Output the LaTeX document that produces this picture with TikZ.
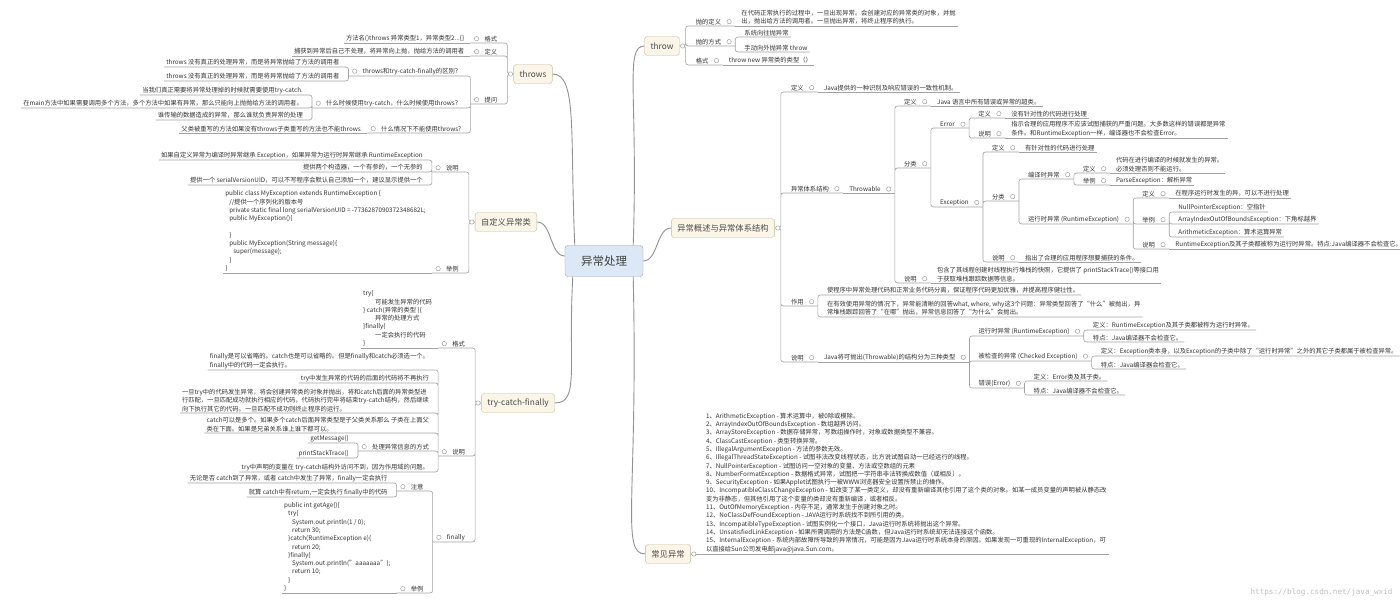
\documentclass[tikz,border=0pt]{standalone}
\usepackage{fontspec}
\setmainfont{Noto Sans CJK SC}[Ligatures=Common]
\newfontfamily\wmfont{DejaVu Sans Mono}
\definecolor{linegray}{HTML}{A2A2A2}
\definecolor{boxfill}{HTML}{FBF5E8}
\definecolor{boxline}{HTML}{C9BB9E}
\definecolor{rootfill}{HTML}{DCE8F5}
\definecolor{rootline}{HTML}{8EA8C8}
\definecolor{txt}{HTML}{333333}

\begin{document}
\begin{tikzpicture}[
    x=1pt, y=-1pt,
    lbl/.style={inner xsep=2pt, inner ysep=1.2pt, text=txt,
        font=\fontsize{6.3}{8.3}\selectfont},
    rn/.style={lbl, anchor=south west},
    rp/.style={rn, execute at end node=\hspace{12pt},
        path picture={\draw[dotc] ([xshift=-6pt]path picture bounding box.east) circle (2.2pt);}},
    ln/.style={lbl, anchor=south east},
    lp/.style={ln, execute at begin node=\hspace{12pt},
        path picture={\draw[dotc] ([xshift=6pt]path picture bounding box.west) circle (2.2pt);}},
    dotc/.style={draw=linegray, fill=white, line width=0.5pt},
    conn/.style={draw=linegray, line width=0.6pt, rounded corners=2.5pt},
    branch/.style={draw=linegray!90!black, line width=0.9pt},
    mtopic/.style={rectangle, draw=boxline, fill=boxfill, rounded corners=3pt,
        inner xsep=6pt, minimum height=19pt, text=black!70,
        font=\fontsize{8.3}{10}\selectfont},
    root/.style={rectangle, draw=rootline, fill=rootfill, rounded corners=3pt,
        minimum width=78pt, minimum height=31pt, text=black!75,
        font=\fontsize{11.5}{13}\selectfont},
]
\fill[white] (0,0) rectangle (1400,601);
\useasboundingbox (0,0) rectangle (1400,601);

% Topics
\node[root] (root) at (604,261) {异常处理};
\node[mtopic] (thr) at (662,46) {throw};
\node[mtopic] (gs) at (723,228) {异常概述与异常体系结构};
\node[mtopic] (cj) at (668,554) {常见异常};
\node[mtopic] (tws) at (533,74) {throws};
\node[mtopic] (zdy) at (506,222) {自定义异常类};
\node[mtopic] (tcf) at (518,403) {try-catch-finally};

% throw
\node[rp, xshift=14pt] (thr-dy) at (thr.east |- 0,26) {抛的定义};
\node[rn, xshift=4pt, align=left] (thr-dy-t) at (thr-dy.south east) {在代码正常执行的过程中，一旦出现异常。会创建对应的异常类的对象，并抛\\出，抛出给方法的调用者。一旦抛出异常，将终止程序的执行。};
\node[rp, xshift=14pt] (thr-fs) at (thr.east |- 0,46) {抛的方式};
\node[rn, xshift=7pt] (thr-fs-a) at (thr-fs.south east |- 0,37) {系统向往抛异常};
\node[rn, xshift=7pt] (thr-fs-b) at (thr-fs.south east |- 0,52) {手动向外抛异常 throw};
\node[rp, xshift=14pt] (thr-gs) at (thr.east |- 0,65) {格式};
\node[rn, xshift=4pt] (thr-gs-t) at (thr-gs.south east) {throw new 异常类的类型（）};

% Overview and hierarchy
\node[rp, xshift=14pt] (gs-dy) at (gs.east |- 0,92) {定义};
\node[rn, xshift=4pt] (gs-dy-t) at (gs-dy.south east) {Java提供的一种识别及响应错误的一致性机制。};
\node[rp, xshift=14pt] (gs-tx) at (gs.east |- 0,193) {异常体系结构};
\node[rp, xshift=4pt] (tb) at (gs-tx.south east) {Throwable};
\node[rp, xshift=7pt] (tb-dy) at (tb.south east |- 0,106) {定义};
\node[rn, xshift=4pt] (tb-dy-t) at (tb-dy.south east) {Java 语言中所有错误或异常的超类。};
\node[rp, xshift=7pt] (tb-fl) at (tb.south east |- 0,168) {分类};
\node[rp, xshift=7pt] (er) at (tb-fl.south east |- 0,128) {Error};
\node[rp, xshift=7pt] (er-dy) at (er.south east |- 0,118) {定义};
\node[rn, xshift=4pt] (er-dy-t) at (er-dy.south east) {没有针对性的代码进行处理};
\node[rp, xshift=7pt] (er-sm) at (er.south east |- 0,138) {说明};
\node[rn, xshift=4pt, align=left] (er-sm-t) at (er-sm.south east) {指示合理的应用程序不应该试图捕获的严重问题。大多数这样的错误都是异常\\条件。和RuntimeException一样，编译器也不会检查Error。};
\node[rp, xshift=7pt] (ex) at (tb-fl.south east |- 0,207) {Exception};
\node[rp, xshift=7pt] (ex-dy) at (ex.south east |- 0,152) {定义};
\node[rn, xshift=4pt] (ex-dy-t) at (ex-dy.south east) {有针对性的代码进行处理};
\node[rp, xshift=7pt] (ex-fl) at (ex.south east |- 0,201) {分类};
\node[rp, xshift=7pt] (bys) at (ex-fl.south east |- 0,179) {编译时异常};
\node[rp, xshift=7pt] (bys-dy) at (bys.south east |- 0,173) {定义};
\node[rn, xshift=4pt, align=left] (bys-dy-t) at (bys-dy.south east) {代码在进行编译的时候就发生的异常。\\必须处理否则不能运行。};
\node[rp, xshift=7pt] (bys-jl) at (bys.south east |- 0,185) {举例};
\node[rn, xshift=4pt] (bys-jl-t) at (bys-jl.south east) {ParseException：解析异常};
\node[rp, xshift=7pt] (yxs) at (ex-fl.south east |- 0,224) {运行时异常 (RuntimeException)};
\node[rp, xshift=7pt] (yxs-dy) at (yxs.south east |- 0,198) {定义};
\node[rn, xshift=4pt] (yxs-dy-t) at (yxs-dy.south east) {在程序运行时发生的异，可以不进行处理};
\node[rp, xshift=7pt] (yxs-jl) at (yxs.south east |- 0,224) {举例};
\node[rn, xshift=7pt] (yxs-jl-a) at (yxs-jl.south east |- 0,212) {NullPointerException：空指针};
\node[rn, xshift=7pt] (yxs-jl-b) at (yxs-jl.south east |- 0,224) {ArrayIndexOutOfBoundsException：下角标越界};
\node[rn, xshift=7pt] (yxs-jl-c) at (yxs-jl.south east |- 0,237) {ArithmeticException：算术运算异常};
\node[rp, xshift=7pt] (yxs-sm) at (yxs.south east |- 0,249) {说明};
\node[rn, xshift=4pt] (yxs-sm-t) at (yxs-sm.south east) {RuntimeException及其子类都被称为运行时异常。特点:Java编译器不会检查它。};
\node[rp, xshift=7pt] (ex-sm) at (ex.south east |- 0,262) {说明};
\node[rn, xshift=4pt] (ex-sm-t) at (ex-sm.south east) {指出了合理的应用程序想要捕获的条件。};
\node[rp, xshift=7pt] (tb-sm) at (tb.south east |- 0,283) {说明};
\node[rn, xshift=4pt, align=left] (tb-sm-t) at (tb-sm.south east) {包含了其线程创建时线程执行堆栈的快照，它提供了 printStackTrace()等接口用\\于获取堆栈跟踪数据等信息。};
\node[rp, xshift=14pt] (gs-zy) at (gs.east |- 0,306) {作用};
\node[rn, xshift=7pt] (gs-zy-a) at (gs-zy.south east |- 0,295) {使程序中异常处理代码和正常业务代码分离，保证程序代码更加优雅，并提高程序健壮性。};
\node[rn, xshift=7pt, align=left] (gs-zy-b) at (gs-zy.south east |- 0,317) {在有效使用异常的情况下，异常能清晰的回答what, where, why这3个问题：异常类型回答了“什么”被抛出，异\\常堆栈跟踪回答了“在哪”抛出，异常信息回答了“为什么”会抛出。};
\node[rp, xshift=14pt] (gs-sm) at (gs.east |- 0,362) {说明};
\node[rp, xshift=4pt] (gs-sm-t) at (gs-sm.south east) {Java将可抛出(Throwable)的结构分为三种类型};
\node[rp, xshift=7pt] (rt) at (gs-sm-t.south east |- 0,336) {运行时异常 (RuntimeException)};
\node[rn, xshift=7pt] (rt-a) at (rt.south east |- 0,330) {定义：RuntimeException及其子类都被称为运行时异常。};
\node[rn, xshift=7pt] (rt-b) at (rt.south east |- 0,342) {特点：Java编译器不会检查它。};
\node[rp, xshift=7pt] (ck) at (gs-sm-t.south east |- 0,361) {被检查的异常 (Checked Exception)};
\node[rn, xshift=7pt] (ck-a) at (ck.south east |- 0,356) {定义：Exception类本身，以及Exception的子类中除了“运行时异常”之外的其它子类都属于被检查异常。};
\node[rn, xshift=7pt] (ck-b) at (ck.south east |- 0,369) {特点：Java编译器会检查它。};
\node[rp, xshift=7pt] (err) at (gs-sm-t.south east |- 0,388) {错误(Error)};
\node[rn, xshift=7pt] (err-a) at (err.south east |- 0,381) {定义：Error类及其子类。};
\node[rn, xshift=7pt] (err-b) at (err.south east |- 0,395) {特点：Java编译器不会检查它。};

% Common exceptions
\node[rn, xshift=13pt, align=left] (cj-t) at (cj.east) {1、ArithmeticException - 算术运算中，被0除或模除。\\
2、ArrayIndexOutOfBoundsException - 数组越界访问。\\
3、ArrayStoreException - 数据存储异常，写数组操作时，对象或数据类型不兼容。\\
4、ClassCastException - 类型转换异常。\\
5、IllegalArgumentException - 方法的参数无效。\\
6、IllegalThreadStateException - 试图非法改变线程状态，比方说试图启动一已经运行的线程。\\
7、NullPointerException - 试图访问一空对象的变量、方法或空数组的元素\\
8、NumberFormatException - 数据格式异常，试图把一字符串非法转换成数值（或相反）。\\
9、SecurityException - 如果Applet试图执行一被WWW浏览器安全设置所禁止的操作。\\
10、IncompatibleClassChangeException - 如改变了某一类定义，却没有重新编译其他引用了这个类的对象。如某一成员变量的声明被从静态改\\
变为非静态，但其他引用了这个变量的类却没有重新编译，或者相反。\\
11、OutOfMemoryException - 内存不足，通常发生于创建对象之时。\\
12、NoClassDefFoundException - JAVA运行时系统找不到所引用的类。\\
13、IncompatibleTypeException - 试图实例化一个接口，Java运行时系统将抛出这个异常。\\
14、UnsatisfiedLinkException - 如果所需调用的方法是C函数，但Java运行时系统却无法连接这个函数。\\
15、InternalException - 系统内部故障所导致的异常情况，可能是因为Java运行时系统本身的原因。如果发现一可重现的InternalException，可\\
以直接给Sun公司发电邮java@java.Sun.com。};

% throws
\node[lp, xshift=-14pt] (tws-gs) at (tws.west |- 0,43) {格式};
\node[ln, xshift=-4pt] (tws-gs-t) at (tws-gs.south west) {方法名()throws 异常类型1，异常类型2...\{\}};
\node[lp, xshift=-14pt] (tws-dy) at (tws.west |- 0,56) {定义};
\node[ln, xshift=-4pt] (tws-dy-t) at (tws-dy.south west) {捕获到异常后自己不处理，将异常向上抛，抛给方法的调用者};
\node[lp, xshift=-14pt] (tws-tw) at (tws.west |- 0,104) {提问};
\node[lp, xshift=-7pt] (q1) at (tws-tw.south west |- 0,76) {throws和try-catch-finally的区别？};
\node[ln, xshift=-7pt] (q1-a) at (q1.south west |- 0,67) {throws 没有真正的处理异常，而是将异常抛给了方法的调用者};
\node[ln, xshift=-7pt] (q1-b) at (q1.south west |- 0,81) {throws 没有真正的处理异常，而是将异常抛给了方法的调用者};
\node[lp, xshift=-7pt] (q2) at (tws-tw.south west |- 0,108) {什么时候使用try-catch，什么时候使用throws？};
\node[ln, xshift=-7pt] (q2-a) at (q2.south west |- 0,95) {当我们真正需要将异常处理掉的时候就需要使用try-catch.};
\node[ln, xshift=-7pt] (q2-b) at (q2.south west |- 0,108) {在main方法中如果需要调用多个方法，多个方法中如果有异常，那么只能向上抛抛给方法的调用者。};
\node[ln, xshift=-7pt] (q2-c) at (q2.south west |- 0,120) {谁传输的数据造成的异常，那么谁就负责异常的处理};
\node[lp, xshift=-7pt] (q3) at (tws-tw.south west |- 0,133) {什么情况下不能使用throws?};
\node[ln, xshift=-4pt] (q3-t) at (q3.south west) {父类被重写的方法如果没有throws子类重写的方法也不能throws};

% Custom exception class
\node[lp, xshift=-14pt] (zdy-sm) at (zdy.west |- 0,172) {说明};
\node[ln, xshift=-7pt] (zdy-sm-a) at (zdy-sm.south west |- 0,160) {如果自定义异常为编译时异常继承 Exception，如果异常为运行时异常继承 RuntimeException};
\node[ln, xshift=-7pt] (zdy-sm-b) at (zdy-sm.south west |- 0,172) {提供两个构造器，一个有参的，一个无参的};
\node[ln, xshift=-7pt] (zdy-sm-c) at (zdy-sm.south west |- 0,185) {提供一个 serialVersionUID，可以不写程序会默认自己添加一个，建议显示提供一个};
\node[lp, xshift=-14pt] (zdy-jl) at (zdy.west |- 0,273) {举例};
\node[ln, xshift=-4pt, align=left] (zdy-jl-t) at (zdy-jl.south west) {public class MyException extends RuntimeException \{\\
\hspace*{4pt}//提供一个序列化的版本号\\
\hspace*{4pt}private static final long serialVersionUID = -7736287090372348682L;\\
\hspace*{4pt}public MyException()\{\\
\mbox{}\\
\hspace*{4pt}\}\\
\hspace*{4pt}public MyException(String message)\{\\
\hspace*{8pt}super(message);\\
\hspace*{4pt}\}\\
\}};

% try-catch-finally
\node[lp, xshift=-14pt] (tcf-gs) at (tcf.west |- 0,348) {格式};
\node[ln, xshift=-4pt, align=left] (tcf-gs-t) at (tcf-gs.south west) {try\{\\
\hspace*{12pt}可能发生异常的代码\\
\} catch(异常的类型 )\{\\
\hspace*{12pt}异常的处理方式\\
\}finally\{\\
\hspace*{12pt}一定会执行的代码\\
\}};
\node[lp, xshift=-14pt] (tcf-sm) at (tcf.west |- 0,456) {说明};
\node[ln, xshift=-7pt, align=left] (sm-a) at (tcf-sm.south west |- 0,370) {finally是可以省略的。catch也是可以省略的。但是finally和catch必须选一个。\\finally中的代码一定会执行。};
\node[ln, xshift=-7pt] (sm-b) at (tcf-sm.south west |- 0,383) {try中发生异常的代码的后面的代码将不再执行};
\node[ln, xshift=-7pt, align=left] (sm-c) at (tcf-sm.south west |- 0,413) {一旦try中的代码发生异常，将会创建异常类的对象并抛出，将和catch后面的异常类型进\\行匹配，一旦匹配成功就执行相应的代码，代码执行完毕将结束try-catch结构，然后继续\\向下执行其它的代码。一旦匹配不成功则终止程序的运行。};
\node[ln, xshift=-7pt, align=left] (sm-d) at (tcf-sm.south west |- 0,433) {catch可以是多个。如果多个catch后面异常类型是子父类关系那么 子类在上面父\\类在下面。如果是兄弟关系谁上谁下都可以。};
\node[lp, xshift=-7pt] (sm-e) at (tcf-sm.south west |- 0,451) {处理异常信息的方式};
\node[ln, xshift=-7pt] (sm-e1) at (sm-e.south west |- 0,443) {getMessage()};
\node[ln, xshift=-7pt] (sm-e2) at (sm-e.south west |- 0,458) {printStackTrace()};
\node[ln, xshift=-7pt] (sm-f) at (tcf-sm.south west |- 0,472) {try中声明的变量在 try-catch结构外访问不到，因为作用域的问题。};
\node[lp, xshift=-14pt] (tcf-fn) at (tcf.west |- 0,542) {finally};
\node[lp, xshift=-7pt] (zy) at (tcf-fn.south west |- 0,491) {注意};
\node[ln, xshift=-7pt] (zy-a) at (zy.south west |- 0,483) {无论是否 catch到了异常，或者 catch中发生了异常，finally一定会执行};
\node[ln, xshift=-7pt] (zy-b) at (zy.south west |- 0,497) {就算 catch中有return,一定会执行 finally中的代码};
\node[lp, xshift=-7pt] (fn-jl) at (tcf-fn.south west |- 0,593) {举例};
\node[ln, xshift=-4pt, align=left] (fn-jl-t) at (fn-jl.south west) {public int getAge()\{\\
\hspace*{4pt}try\{\\
\hspace*{8pt}System.out.println(1 / 0);\\
\hspace*{8pt}return 30;\\
\hspace*{4pt}\}catch(RuntimeException e)\{\\
\hspace*{8pt}return 20;\\
\hspace*{4pt}\}finally\{\\
\hspace*{8pt}System.out.println("aaaaaaa");\\
\hspace*{8pt}return 10;\\
\hspace*{4pt}\}\\
\}};

% Watermark
\node[anchor=east, text=black!25, font=\wmfont\fontsize{7.6}{9}\selectfont] (wm) at (1396,592) {https://blog.csdn.net/java\_wxid};

% Branches from the root
\draw[branch] ([xshift=10pt]root.north west) .. controls +(-5,-110) and +(25,0) .. (tws.east);
\draw[branch] ([yshift=5pt]root.west) .. controls +(-15,0) and +(15,0) .. (zdy.east);
\draw[branch] ([xshift=8pt]root.south west) .. controls +(-5,90) and +(25,0) .. (tcf.east);
\draw[branch] ([xshift=-10pt]root.north east) .. controls +(5,-150) and +(-20,0) .. (thr.west);
\draw[branch] (root.east) .. controls +(15,0) and +(-15,0) .. (gs.west);
\draw[branch] ([xshift=-10pt]root.south east) .. controls +(5,220) and +(-25,0) .. (cj.west);

% Connectors, right side
\draw[conn] (thr.east) -- ++(6pt,0) |- (thr-dy.south east) (thr.east) -- ++(6pt,0) |- (thr-fs.south east) (thr.east) -- ++(6pt,0) |- (thr-gs.south east);
\draw[conn] (thr-dy.south east) -- (thr-dy-t.south east);
\draw[conn] (thr-fs.south east) |- (thr-fs-a.south east) (thr-fs.south east) |- (thr-fs-b.south east);
\draw[conn] (thr-gs.south east) -- (thr-gs-t.south east);
\draw[conn] (gs.east) -- ++(6pt,0) |- (gs-dy.south east) (gs.east) -- ++(6pt,0) |- (gs-tx.south east) (gs.east) -- ++(6pt,0) |- (gs-zy.south east) (gs.east) -- ++(6pt,0) |- (gs-sm.south east);
\draw[conn] (gs-dy.south east) -- (gs-dy-t.south east);
\draw[conn] (gs-tx.south east) -- (tb.south east);
\draw[conn] (tb.south east) |- (tb-dy.south east) (tb.south east) |- (tb-fl.south east) (tb.south east) |- (tb-sm.south east);
\draw[conn] (tb-dy.south east) -- (tb-dy-t.south east);
\draw[conn] (tb-fl.south east) |- (er.south east) (tb-fl.south east) |- (ex.south east);
\draw[conn] (er.south east) |- (er-dy.south east) (er.south east) |- (er-sm.south east);
\draw[conn] (er-dy.south east) -- (er-dy-t.south east);
\draw[conn] (er-sm.south east) -- (er-sm-t.south east);
\draw[conn] (ex.south east) |- (ex-dy.south east) (ex.south east) |- (ex-fl.south east) (ex.south east) |- (ex-sm.south east);
\draw[conn] (ex-dy.south east) -- (ex-dy-t.south east);
\draw[conn] (ex-fl.south east) |- (bys.south east) (ex-fl.south east) |- (yxs.south east);
\draw[conn] (bys.south east) |- (bys-dy.south east) (bys.south east) |- (bys-jl.south east);
\draw[conn] (bys-dy.south east) -- (bys-dy-t.south east);
\draw[conn] (bys-jl.south east) -- (bys-jl-t.south east);
\draw[conn] (yxs.south east) |- (yxs-dy.south east) (yxs.south east) |- (yxs-jl.south east) (yxs.south east) |- (yxs-sm.south east);
\draw[conn] (yxs-dy.south east) -- (yxs-dy-t.south east);
\draw[conn] (yxs-jl.south east) |- (yxs-jl-a.south east) (yxs-jl.south east) |- (yxs-jl-b.south east) (yxs-jl.south east) |- (yxs-jl-c.south east);
\draw[conn] (yxs-sm.south east) -- (yxs-sm-t.south east);
\draw[conn] (ex-sm.south east) -- (ex-sm-t.south east);
\draw[conn] (tb-sm.south east) -- (tb-sm-t.south east);
\draw[conn] (gs-zy.south east) |- (gs-zy-a.south east) (gs-zy.south east) |- (gs-zy-b.south east);
\draw[conn] (gs-sm.south east) -- (gs-sm-t.south east);
\draw[conn] (gs-sm-t.south east) |- (rt.south east) (gs-sm-t.south east) |- (ck.south east) (gs-sm-t.south east) |- (err.south east);
\draw[conn] (rt.south east) |- (rt-a.south east) (rt.south east) |- (rt-b.south east);
\draw[conn] (ck.south east) |- (ck-a.south east) (ck.south east) |- (ck-b.south east);
\draw[conn] (err.south east) |- (err-a.south east) (err.south east) |- (err-b.south east);
\draw[conn] (cj.east) -- (cj-t.south east);

% Connectors, left side
\draw[conn] (tws.west) -- ++(-6pt,0) |- (tws-gs.south west) (tws.west) -- ++(-6pt,0) |- (tws-dy.south west) (tws.west) -- ++(-6pt,0) |- (tws-tw.south west);
\draw[conn] (tws-gs.south west) -- (tws-gs-t.south west);
\draw[conn] (tws-dy.south west) -- (tws-dy-t.south west);
\draw[conn] (tws-tw.south west) |- (q1.south west) (tws-tw.south west) |- (q2.south west) (tws-tw.south west) |- (q3.south west);
\draw[conn] (q1.south west) |- (q1-a.south west) (q1.south west) |- (q1-b.south west);
\draw[conn] (q2.south west) |- (q2-a.south west) (q2.south west) |- (q2-b.south west) (q2.south west) |- (q2-c.south west);
\draw[conn] (q3.south west) -- (q3-t.south west);
\draw[conn] (zdy.west) -- ++(-6pt,0) |- (zdy-sm.south west) (zdy.west) -- ++(-6pt,0) |- (zdy-jl.south west);
\draw[conn] (zdy-sm.south west) |- (zdy-sm-a.south west) (zdy-sm.south west) |- (zdy-sm-b.south west) (zdy-sm.south west) |- (zdy-sm-c.south west);
\draw[conn] (zdy-jl.south west) -- (zdy-jl-t.south west);
\draw[conn] (tcf.west) -- ++(-6pt,0) |- (tcf-gs.south west) (tcf.west) -- ++(-6pt,0) |- (tcf-sm.south west) (tcf.west) -- ++(-6pt,0) |- (tcf-fn.south west);
\draw[conn] (tcf-gs.south west) -- (tcf-gs-t.south west);
\draw[conn] (tcf-sm.south west) |- (sm-a.south west) (tcf-sm.south west) |- (sm-b.south west) (tcf-sm.south west) |- (sm-c.south west) (tcf-sm.south west) |- (sm-d.south west) (tcf-sm.south west) |- (sm-e.south west) (tcf-sm.south west) |- (sm-f.south west);
\draw[conn] (sm-e.south west) |- (sm-e1.south west) (sm-e.south west) |- (sm-e2.south west);
\draw[conn] (tcf-fn.south west) |- (zy.south west) (tcf-fn.south west) |- (fn-jl.south west);
\draw[conn] (zy.south west) |- (zy-a.south west) (zy.south west) |- (zy-b.south west);
\draw[conn] (fn-jl.south west) -- (fn-jl-t.south west);

% Collapse circles on the topics
\draw[dotc] ([xshift=3pt]thr.east) circle (2.2pt);
\draw[dotc] ([xshift=3pt]gs.east) circle (2.2pt);
\draw[dotc] ([xshift=3pt]cj.east) circle (2.2pt);
\draw[dotc] ([xshift=-3pt]tws.west) circle (2.2pt);
\draw[dotc] ([xshift=-3pt]zdy.west) circle (2.2pt);
\draw[dotc] ([xshift=-3pt]tcf.west) circle (2.2pt);

\end{tikzpicture}
\end{document}
